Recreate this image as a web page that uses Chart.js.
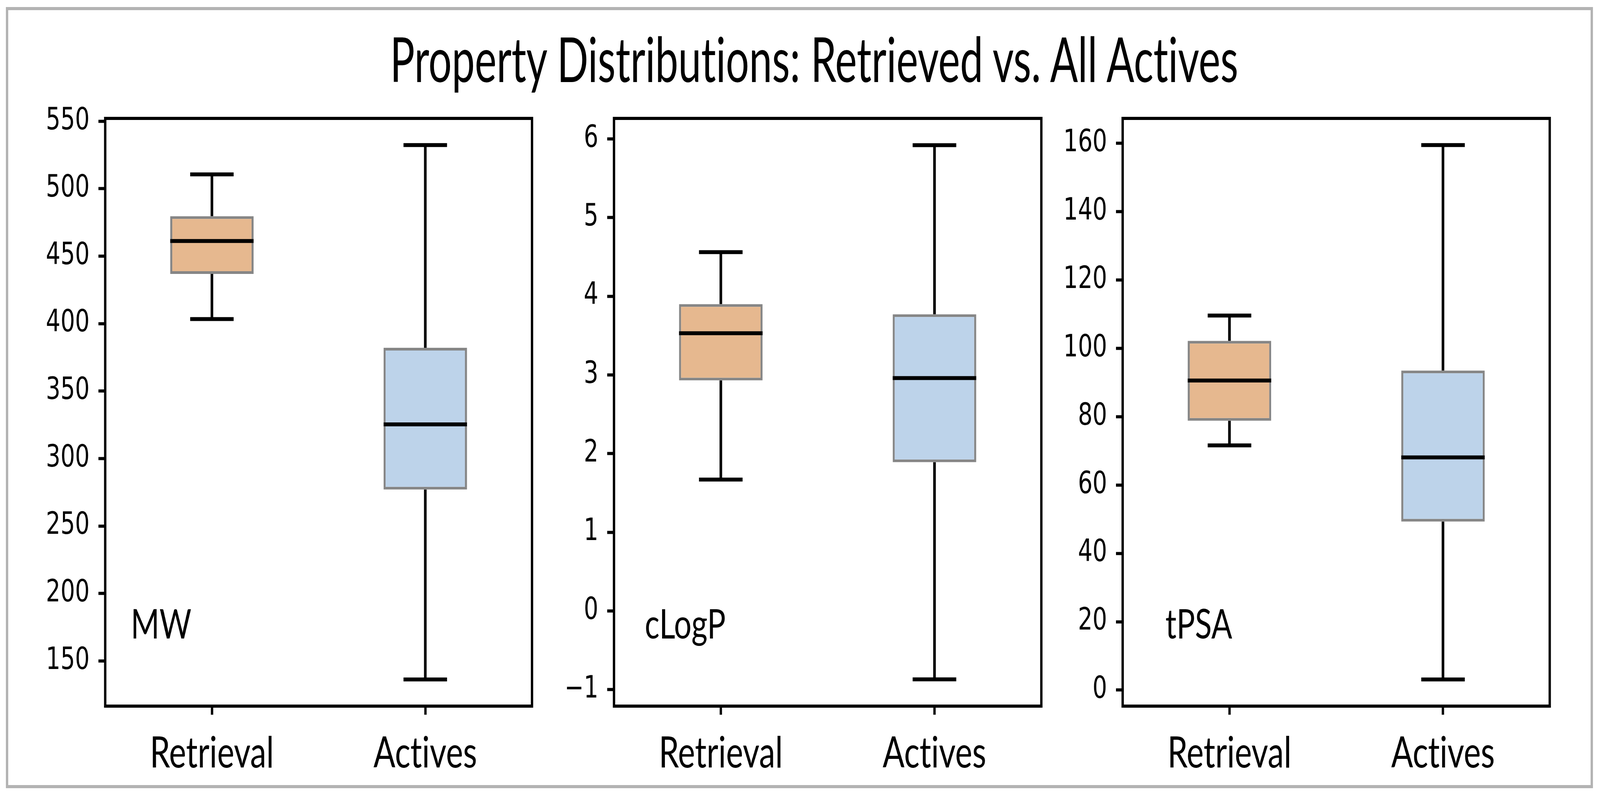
<!DOCTYPE html>
<html><head><meta charset="utf-8">
<script src="https://cdn.jsdelivr.net/npm/chart.js@4.4.1/dist/chart.umd.min.js"></script>
<style>
html,body{margin:0;padding:0;background:#fff;overflow:hidden;}
#view{position:absolute;left:0;top:0;overflow:hidden;background:#fff;}
#wrap{position:absolute;left:0;top:0;width:5444px;height:2037px;transform-origin:0 0;background:#fff;}
#frame{position:absolute;left:20px;top:18px;width:5384px;height:1983px;border:8px solid #b3b3b3;}
#title{position:absolute;left:0;width:5540px;top:68px;text-align:center;font-family:Lato;font-size:160px;line-height:160px;color:#000;white-space:nowrap;font-variant-ligatures:none;transform:scaleX(0.875);transform-origin:50% 50%;}
canvas{position:absolute;}
</style></head>
<body>
<div id="view">
<div id="wrap">
<div id="frame"></div>
<div id="title">Property Distributions: Retrieved vs. All Actives</div>
<canvas id="c0"></canvas><canvas id="c1"></canvas><canvas id="c2"></canvas>
</div>
</div>
<script>
// ---- data ----
const categories = ['Retrieval', 'Actives'];
const panelNames = ['MW', 'cLogP', 'tPSA'];

const mwMin = [403.4, 136.3];
const mwQ1  = [436.8, 277.0];
const mwMed = [461.2, 325.3];
const mwQ3  = [479.6, 382.1];
const mwMax = [510.6, 532.3];

const clogpMin = [1.67, -0.87];
const clogpQ1  = [2.93, 1.89];
const clogpMed = [3.53, 2.96];
const clogpQ3  = [3.90, 3.77];
const clogpMax = [4.56, 5.92];

const tpsaMin = [71.6, 3.1];
const tpsaQ1  = [78.8, 49.3];
const tpsaMed = [90.6, 68.1];
const tpsaQ3  = [102.2, 93.5];
const tpsaMax = [109.6, 159.5];

const mwAxis    = {min: 116.5, max: 552.1, step: 50};
const clogpAxis = {min: -1.21, max: 6.26, step: 1};
const tpsaAxis  = {min: -4.7,  max: 167.3, step: 20};

// ---- layout / style ----
const W0 = 5444, H0 = 2037;
const iw = window.innerWidth || W0, ih = window.innerHeight || H0;
const sx = iw / W0, sy = ih / H0;
const view = document.getElementById('view');
view.style.width = iw + 'px';
view.style.height = ih + 'px';
document.documentElement.style.width = document.body.style.width = iw + 'px';
document.documentElement.style.height = document.body.style.height = ih + 'px';
document.getElementById('wrap').style.transform = 'scale(' + sx + ',' + sy + ')';
const dpr = Math.max(sx, sy) * (window.devicePixelRatio || 1);

const boxColors = ['#E6B88F', '#BDD3EA'];
const plotLeft  = [358, 2089, 3820];
const plotRight = [1810, 3543, 5273];
const plotTop = 303, plotBottom = 1807;
const yAxisW = 300, xAxisH = 230, padTop = 60, padRight = 20;
const labelPos = [[0.060, 0.885], [0.072, 0.885], [0.100, 0.885]];

const stats = [
  {min: mwMin, q1: mwQ1, med: mwMed, q3: mwQ3, max: mwMax, axis: mwAxis},
  {min: clogpMin, q1: clogpQ1, med: clogpMed, q3: clogpQ3, max: clogpMax, axis: clogpAxis},
  {min: tpsaMin, q1: tpsaQ1, med: tpsaMed, q3: tpsaQ3, max: tpsaMax, axis: tpsaAxis}
];

const boxPlugin = {
  id: 'boxWhiskers',
  beforeDraw(chart) {
    try { chart.ctx.textRendering = 'optimizeSpeed'; } catch (e) {}
  },
  afterDatasetsDraw(chart, args, opts) {
    const s = opts.stats;
    const {ctx, chartArea: a} = chart;
    const x = chart.scales.x, y = chart.scales.y;
    const cw = x.getPixelForValue(1) - x.getPixelForValue(0);
    const bars = chart.getDatasetMeta(0).data;
    ctx.save();
    ctx.strokeStyle = '#000';
    ctx.lineCap = 'butt';
    const line = (x1, y1, x2, y2, w) => {
      ctx.lineWidth = w; ctx.beginPath(); ctx.moveTo(x1, y1); ctx.lineTo(x2, y2); ctx.stroke();
    };
    for (let i = 0; i < categories.length; i++) {
      const cx = x.getPixelForValue(i);
      const half = bars[i].width / 2;
      const capHalf = cw * 0.102;
      line(cx, y.getPixelForValue(s.q3[i]), cx, y.getPixelForValue(s.max[i]), 9);
      line(cx, y.getPixelForValue(s.q1[i]), cx, y.getPixelForValue(s.min[i]), 9);
      line(cx - capHalf, y.getPixelForValue(s.max[i]), cx + capHalf, y.getPixelForValue(s.max[i]), 10);
      line(cx - capHalf, y.getPixelForValue(s.min[i]), cx + capHalf, y.getPixelForValue(s.min[i]), 10);
      line(cx - half, y.getPixelForValue(s.med[i]), cx + half, y.getPixelForValue(s.med[i]), 10);
    }
    ctx.lineWidth = 8;
    ctx.strokeRect(a.left, a.top, a.right - a.left, a.bottom - a.top);
    ctx.fillStyle = '#000';
    ctx.font = '105px Lato';
    ctx.textBaseline = 'alphabetic';
    ctx.textAlign = 'left';
    ctx.fillText(opts.label, a.left + (a.right - a.left) * opts.lx, a.top + (a.bottom - a.top) * opts.ly);
    ctx.restore();
  }
};

const fmt = v => {
  const r = Math.round(v * 1000) / 1000;
  return r < 0 ? '\u2212' + Math.abs(r) : String(r);
};

stats.forEach((s, p) => {
  const cv = document.getElementById('c' + p);
  const w = yAxisW + (plotRight[p] - plotLeft[p]) + padRight;
  const h = padTop + (plotBottom - plotTop) + xAxisH;
  cv.style.left = (plotLeft[p] - yAxisW) + 'px';
  cv.style.top = (plotTop - padTop) + 'px';
  cv.width = w; cv.height = h;
  cv.style.width = w + 'px'; cv.style.height = h + 'px';
  new Chart(cv, {
    type: 'bar',
    data: {
      labels: categories,
      datasets: [{
        data: categories.map((c, i) => [s.q1[i], s.q3[i]]),
        backgroundColor: boxColors,
        borderColor: 'rgba(60,60,60,0.62)',
        borderWidth: 7,
        borderSkipped: false,
        barPercentage: 0.391,
        categoryPercentage: 1.0
      }]
    },
    options: {
      responsive: false,
      maintainAspectRatio: false,
      animation: false,
      devicePixelRatio: dpr,
      layout: {padding: {top: padTop, right: padRight, left: 0, bottom: 0}},
      plugins: {
        legend: {display: false},
        tooltip: {enabled: false},
        title: {display: false},
        boxWhiskers: {stats: s, label: panelNames[p], lx: labelPos[p][0], ly: labelPos[p][1]}
      },
      scales: {
        x: {
          type: 'category',
          offset: true,
          grid: {display: true, offset: false, drawOnChartArea: false, drawTicks: true,
                 tickLength: 22, tickWidth: 8, color: '#000', tickColor: '#000'},
          border: {display: false},
          ticks: {font: {family: 'Lato', size: 110}, color: '#000', padding: 34, maxRotation: 0, autoSkip: false},
          afterFit(sc) { sc.height = xAxisH; sc.paddingLeft = 0; sc.paddingRight = 0; }
        },
        y: {
          type: 'linear',
          min: s.axis.min, max: s.axis.max,
          grid: {display: true, drawOnChartArea: false, drawTicks: true,
                 tickLength: 23, tickWidth: 8, color: '#000', tickColor: '#000'},
          border: {display: false},
          ticks: {stepSize: s.axis.step, includeBounds: false, font: {family: 'DejaVu Sans', size: 78},
                  color: '#000', padding: 30, callback: fmt},
          afterFit(sc) { sc.width = yAxisW; sc.paddingTop = 0; sc.paddingBottom = 0; }
        }
      }
    },
    plugins: [boxPlugin]
  });
});
</script>
</body></html>
